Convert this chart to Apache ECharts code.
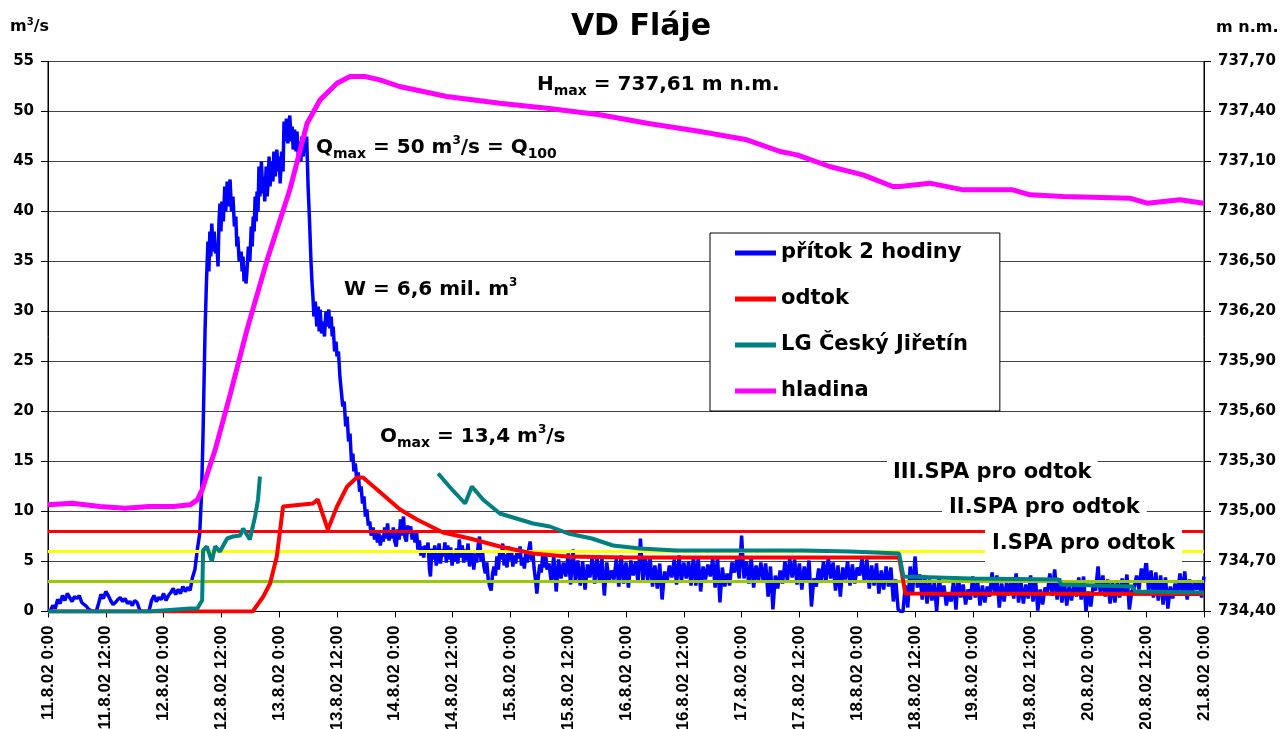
<!DOCTYPE html>
<html>
<head>
<meta charset="utf-8">
<script src="https://cdn.jsdelivr.net/npm/echarts@6/dist/echarts.min.js"></script>
<style>
html,body{margin:0;padding:0;background:#fff;}
#c{width:1282px;height:729px;}
</style>
</head>
<body>
<div id="c"></div>
<script>
// x values are hours since 11.8.02 0:00
const xTickLabels = ['11.8.02 0:00','11.8.02 12:00','12.8.02 0:00','12.8.02 12:00','13.8.02 0:00','13.8.02 12:00','14.8.02 0:00','14.8.02 12:00','15.8.02 0:00','15.8.02 12:00','16.8.02 0:00','16.8.02 12:00','17.8.02 0:00','17.8.02 12:00','18.8.02 0:00','18.8.02 12:00','19.8.02 0:00','19.8.02 12:00','20.8.02 0:00','20.8.02 12:00','21.8.02 0:00'];
const seriesNames = ['přítok 2 hodiny','odtok','LG Český Jiřetín','hladina'];

// přítok 2 hodiny [hour, m3/s]
const pritok = [
[0,0],[0.5,0.1],[1,0.6],[1.5,0.3],[2,1.2],[2.5,0.8],[3,1.6],[3.5,1.1],[4,1.8],[4.5,1.4],[5,1.0],[5.5,1.5],[6,1.3],[6.5,1.6],[7,0.9],[7.5,0.7],[8,0.5],[8.5,0.2],[9,0.1],[9.5,0],[10,0],[10.5,0.8],[11,1.7],[11.5,1.3],[12,2.0],[12.5,1.6],[13,1.1],[13.5,0.7],[14,0.9],[14.5,1.2],[15,1.4],[15.5,1.0],[16,1.3],[16.5,0.8],[17,1.0],[17.5,0.6],[18,1.1],[18.5,0.9],[19,0.2],[19.5,0],[20,0],[20.5,0],[21,0.1],[21.5,1.1],[22,1.6],[22.5,1.0],[23,1.4],[23.5,1.2],[24,1.8],[24.5,1.1],[25,1.6],[25.5,1.9],[26,2.3],[26.5,1.7],[27,2.2],[27.5,1.8],[28,2.5],[28.5,2.0],[29,2.4],[29.5,2.1],[30,3.4],[30.5,4.2],
[31,6.2],[31.5,7.8],[31.9,12],[32.2,18],[32.6,28],[32.9,33],[33.2,37],[33.4,34],[33.6,38],[33.8,35.5],[34.0,38.8],[34.3,36],[34.5,38],[34.8,35.8],[35.1,36.5],[35.3,34.5],[35.5,39],[35.7,40.8],[35.9,38],[36.1,41],[36.4,39],[36.7,42.5],[36.9,40],[37.2,43],[37.4,40.5],[37.6,42],[37.8,43.2],[38.1,40],[38.4,41.5],[38.7,38.5],[39.0,39.5],[39.2,36.5],[39.4,37.5],[39.7,35],[40.1,36],[40.3,34],[40.5,35.5],[40.7,33],[40.9,34.5],[41.1,32.8],[41.3,34],[41.6,36.5],[41.9,35],[42.2,38.5],[42.4,36.5],[42.6,39.5],[42.8,38],[43.0,41.5],[43.2,39],[43.4,42],[43.6,40],[43.8,44.5],[44.0,41.5],[44.3,45],[44.6,41.8],[44.8,43.5],[45.0,41],[45.3,44.5],[45.5,41.5],[45.7,43],[45.9,45.5],[46.1,42.5],[46.4,45],[46.7,43],[46.9,46],[47.2,43.5],[47.5,46.2],[47.8,44],[48.0,45.5],[48.2,42.8],[48.5,46],[48.8,44],[49.0,49],[49.2,47],[49.5,49.3],[49.8,46.8],[50.0,48.5],[50.2,49.6],[50.5,47],[50.7,48.5],[50.9,46.2],[51.2,48.2],[51.5,46],[51.7,48],[52.0,45.2],[52.3,47],[52.5,45],[52.7,47.5],[53.0,45.5],[53.2,48],[53.4,46],[53.7,47.5],[54.0,42.5],[54.3,39],[54.6,35],[54.8,33],[55.0,31.5],[55.2,29.5],[55.5,31],[55.8,28.5],[56.1,30.5],[56.3,28],[56.5,30.2],[56.8,27.8],[57.1,29],[57.4,27.5],[57.7,30],[58.0,28.5],[58.3,30.2],[58.5,28.3],[58.8,29.5],[59.0,27.5],[59.2,28.5],[59.5,26],[59.8,27],[60.0,25.5],[60.3,26],[60.6,23.5],[60.9,22],[61.2,20.5],[61.5,21],[61.8,18.5],[62.1,19.5],[62.4,17],[62.7,17.8],[63.0,15],[63.3,15.8],[63.5,14],[63.8,14.8],[64.1,13.2],[64.4,13.9],[64.7,12],[65.0,12.5],[65.3,10.8],[65.6,11.5],[65.9,9.5],[66.2,10.2],[66.5,8.6],[66.8,9],
[67.1,7.6],[67.5,8.4],[67.8,7.2],[68.1,8],[68.4,6.9],[68.7,7.8],[69.0,6.6],[69.3,7.6],[69.6,7],[69.9,8.4],[70.2,7.3],[70.5,8.8],[70.8,7.1],[71.1,8.1],[71.4,7.3],[71.7,8.4],[72.0,7],[72.3,6.5],[72.6,8.2],[72.9,7.2],[73.2,9.2],[73.5,7.6],[73.8,9.5],[74.1,7.4],[74.4,7],[74.7,8.6],[75.0,7.8],[75.3,8.5],[75.6,7.2],[75.9,7.9],[76.2,6.9],[76.5,8.1],[76.8,6.2],[77.1,7.1],[77.4,5.6],[77.7,6.5],[78.0,5.4],[78.3,6.6],[78.6,5.9],[78.9,6.9],[79.2,4.2],[79.4,3.5],[79.7,6.3],[80.0,5.2],[80.3,6.6],[80.6,4.6],[80.9,5.4],[81.2,6.8],[81.5,4.8],[81.8,6.2],[82.1,5.5],[82.4,6.9],[82.7,4.9],[83.0,6.6],[83.3,5.2],[83.6,6.4],[83.9,4.6],[84.2,5.8],[84.5,5],[84.8,6.3],[85.1,4.8],[85.4,7.2],[85.7,5.4],[86.0,6.6],[86.3,4.9],[86.6,6.2],[86.9,5.1],[87.2,6.8],[87.5,4.5],[87.8,6.1],[88.1,5.6],[88.4,4.2],[88.7,5.8],[89.0,4.9],[89.3,6.6],[89.6,7.5],[89.9,5],[90.2,6.1],[90.5,4.5],[90.8,3.8],[91.1,4.9],[91.4,3.2],[91.7,2.5],[92.0,2.1],[92.3,3.8],[92.6,4.5],[92.9,3.6],[93.2,5.5],[93.5,4.2],[93.8,6.1],[94.1,5.2],[94.4,6.8],[94.7,4.6],[95.0,5.7],[95.3,4.4],[95.6,6.5],[95.9,5.1],[96.2,6.2],[96.5,4.5],[96.8,5.6],[97.1,4.8],[97.4,6.1],[97.7,5.3],[98.0,6.5],[98.3,4.6],[98.6,5.4],[98.9,4.3],[99.2,5.9],[99.5,4.9],[99.8,6.2],[100.1,7],[100.4,5.1],[100.7,5.8],[100.9,4.4],[101.2,3.2],[101.5,1.8],[101.8,3.5],[102.1,4.7],[102.4,3.9],[102.7,5.6],[103.0,4.4],[103.3,5.8],[103.6,4.2],
[104,4.8],[104.5,2.9],[105,5.6],[105.5,2.0],[106,5.2],[106.5,3.3],[107,4.9],[107.5,3.5],[108,5.8],[108.5,2.7],
[109,6.2],[109.5,3.0],[110,5.1],[110.5,2.6],[111,5.0],[111.5,2.2],[112,4.7],[112.5,3.4],[113,5.5],[113.5,2.8],
[114,5.4],[114.5,2.9],[115,5.3],[115.5,1.6],[116,4.9],[116.5,3.0],[117,4.1],[117.5,3.2],[118,5.3],[118.5,2.5],
[119,5.6],[119.5,2.8],[120,4.9],[120.5,2.4],[121,5.1],[121.5,3.6],[122,5.0],[122.5,2.9],[123,7.3],[123.5,3.0],
[124,5.5],[124.5,3.1],[125,5.4],[125.5,2.5],[126,4.6],[126.5,2.3],[127,4.8],[127.5,1.2],[128,4.0],[128.5,2.9],
[129,4.6],[129.5,3.4],[130,5.2],[130.5,2.7],[131,5.6],[131.5,3.0],[132,4.9],[132.5,3.3],[133,5.0],[133.5,2.6],
[134,5.5],[134.5,2.6],[135,5.4],[135.5,2.0],[136,4.5],[136.5,3.2],[137,4.7],[137.5,3.5],[138,5.3],[138.5,2.4],
[139,5.5],[139.5,0.9],[140,4.4],[140.5,2.5],[141,3.8],[141.5,2.6],[142,4.9],[142.5,3.9],[143,5.2],[143.5,3.3],
[144,7.6],[144.5,3.3],[145,5.0],[145.5,2.8],[146,5.4],[146.5,2.4],[147,4.6],[147.5,3.1],[148,4.9],[148.5,3.0],
[149,4.8],[149.5,1.5],[150,4.5],[150.5,0.2],[151,3.6],[151.5,2.3],[152,4.1],[152.5,2.8],[153,5.0],[153.5,3.1],
[154,5.3],[154.5,3.4],[155,5.2],[155.5,2.7],[156,4.8],[156.5,2.2],[157,4.5],[157.5,2.9],[158,5.1],[158.5,0.5],
[159,3.3],[159.5,2.5],[160,4.3],[160.5,2.9],[161,5.0],[161.5,3.0],[162,5.4],[162.5,3.3],[163,4.9],[163.5,2.1],
[164,4.6],[164.5,1.5],[165,4.4],[165.5,3.2],[166,5.0],[166.5,2.6],[167,4.7],[167.5,2.8],[168,4.4],[168.5,3.6],
[169,5.3],[169.5,2.9],[170,5.2],[170.5,2.3],[171,4.6],[171.5,2.6],[172,4.8],[172.5,1.8],[173,4.1],[173.5,2.2],
[174,4.5],[174.5,2.5],[175,4.4],[175.5,1.0],[176,3.2],[176.5,0.2],[177,0.0],[177.5,0.0],[178,2.6],[178.5,0.4],
[179,4.5],[179.5,1.8],[180,5.5],[180.5,2.4],[181,3.7],[181.5,1.2],[182,3.6],[182.5,0.8],[183,3.2],[183.5,1.1],
[184,2.9],[184.5,0.0],[185,3.4],[185.5,1.5],[186,2.6],[186.5,0.6],[187,1.9],[187.5,1.0],[188,3.1],[188.5,0.2],
[189,3.4],[189.5,1.4],[190,2.7],[190.5,0.7],[191,2.2],[191.5,1.2],[192,3.5],[192.5,1.4],[193,3.0],[193.5,0.6],
[194,2.6],[194.5,0.9],[195,2.5],[195.5,1.5],[196,3.9],[196.5,1.8],[197,3.6],[197.5,0.4],[198,2.8],[198.5,1.0],
[199,2.9],[199.5,1.6],[200,3.4],[200.5,1.3],[201,3.8],[201.5,0.9],[202,3.0],[202.5,0.8],[203,2.7],[203.5,1.3],
[204,3.6],[204.5,1.0],[205,3.3],[205.5,0.1],[206,2.2],[206.5,0.7],[207,2.4],[207.5,1.9],[208,3.8],[208.5,1.6],
[209,4.2],[209.5,1.2],[210,3.3],[210.5,0.9],[211,3.1],[211.5,0.6],[212,2.5],[212.5,1.1],[213,2.8],[213.5,1.5],
[214,3.4],[214.5,1.2],[215,3.5],[215.5,0.0],[216,2.0],[216.5,0.5],[217,2.6],[217.5,2.1],[218,4.5],[218.5,1.7],
[219,3.6],[219.5,1.5],[220,3.2],[220.5,0.8],[221,3.0],[221.5,0.9],[222,2.9],[222.5,1.4],[223,3.3],[223.5,1.8],
[224,3.7],[224.5,0.2],[225,2.0],[225.5,2.4],[226,3.6],[226.5,2.2],[227,4.3],[227.5,3.0],[228,5.2],[228.5,2.0],
[229,4.1],[229.5,1.4],[230,3.9],[230.5,1.1],[231,3.6],[231.5,0.7],[232,3.4],[232.5,0.3],[233,2.5],[233.5,1.3],
[234,2.8],[234.5,1.6],[235,3.8],[235.5,1.8],[236,4.0],[236.5,1.2],[237,3.2],[237.5,1.6],[238,3.0],[238.5,2.2],
[239,3.1],[239.5,1.4],[240,3.5]
];

// odtok [hour, m3/s]
const odtok = [
[0,0],[42.5,0],[44.7,1.5],[46.1,2.8],[47.5,5.5],[48.8,10.5],[55,10.8],[56,11.2],[58.1,8.2],[60,10.5],[62.1,12.5],[64.1,13.4],[65.4,13.4],[68.3,12.2],[73.1,10.2],[76.6,9.2],[82,7.9],[87.6,7.3],[93.8,6.5],[100.7,5.8],[107.7,5.5],[120,5.4],[176.7,5.4],[178,1.8],[240,1.75]
];

// LG Český Jiřetín [hour, m3/s]
const ceskyJiretin = [
[0,0],[21,0],[29.5,0.3],[31,0.3],[31.6,0.8],[32,1.1],[32.2,6.1],[33,6.5],[34,5],[34.7,6.5],[35.7,6],[37.2,7.3],[38.4,7.5],[39.9,7.6],[40.5,8.3],[41.9,7.2],[43,9.5],[43.6,11.2],[44,13.5],
[60,'-'],
[81,13.8],[83.5,12.4],[86.6,10.8],[88,12.5],[90.3,11.2],[93.8,9.8],[100.7,8.8],[104.2,8.5],[108,7.8],[112.9,7.3],[117.3,6.6],[122.9,6.3],[130.4,6.1],[143.7,6.1],[156.5,6.1],[166.5,6.0],[176.7,5.8],[177.6,3.5],[191.6,3.3],[209.9,3.2],[210.3,2.7],[225.2,2.5],[225.7,2.0],[240,1.9]
];

// hladina [hour, m n.m.]
const hladina = [
[0,735.04],[5,735.05],[10.8,735.03],[16,735.02],[21,735.03],[26,735.03],[29.5,735.04],[31,735.07],[32,735.13],[34.7,735.37],[37.8,735.70],[41.3,736.09],[45.5,736.51],[50.2,736.93],[53.8,737.33],[56.5,737.47],[60,737.57],[62.7,737.61],[65.8,737.61],[68.9,737.59],[73,737.55],[82.8,737.49],[93.8,737.45],[103.6,737.42],[114.6,737.38],[124.4,737.33],[135.4,737.28],[145.1,737.23],[152,737.16],[155.5,737.14],[162.3,737.07],[169.2,737.02],[175.4,736.95],[176.9,736.95],[183.1,736.97],[190,736.93],[200.3,736.93],[203.9,736.90],[210.7,736.89],[224.6,736.88],[228.2,736.85],[235,736.87],[240,736.85]
];

// SPA thresholds for odtok [m3/s]
const spa1 = 8;
const spaYellow = 6;
const spaGreen = 3;
const xRange = [0, 240];

const FONT = 'DejaVu Sans';
const chart = echarts.init(document.getElementById('c'), null, {renderer: 'canvas'});

function hline(val, color, z) {
  return {
    type: 'line', data: [[xRange[0], val], [xRange[1], val]], symbol: 'none', silent: true,
    lineStyle: {color: color, width: 3}, z: z, yAxisIndex: 0
  };
}

const rich = {
  a: {fontFamily: FONT, fontWeight: 'bold', fontSize: 20, lineHeight: 26, color: '#000'},
  s: {fontFamily: FONT, fontWeight: 'bold', fontSize: 14, lineHeight: 14, verticalAlign: 'bottom', color: '#000'},
  p: {fontFamily: FONT, fontWeight: 'bold', fontSize: 12, lineHeight: 16, verticalAlign: 'top', color: '#000'}
};
const richSmall = {
  a: {fontFamily: FONT, fontWeight: 'bold', fontSize: 16, lineHeight: 20, color: '#000'},
  p: {fontFamily: FONT, fontWeight: 'bold', fontSize: 10, lineHeight: 12, verticalAlign: 'top', color: '#000'}
};

function ann(x, y, text, r) {
  return {
    type: 'text', x: x, y: y, z: 100,
    style: {text: text, rich: r || rich, verticalAlign: 'middle', align: 'left', fill: '#000'}
  };
}
function boxLabel(x, y, text, pad) {
  return {
    type: 'text', x: x, y: y, z: 100,
    style: {text: text, font: 'bold 21px "DejaVu Sans"', fill: '#000', verticalAlign: 'middle', align: 'left',
      backgroundColor: '#fff', padding: pad}
  };
}

const option = {
  animation: false,
  backgroundColor: '#fff',
  title: {
    text: 'VD Fláje', left: 'center', top: 7,
    textStyle: {fontFamily: FONT, fontWeight: 'bold', fontSize: 30, color: '#000'}
  },
  legend: {
    data: seriesNames, orient: 'vertical', left: 710, top: 233,
    padding: [8, 32, 8, 25], itemGap: 22, itemWidth: 41, itemHeight: 5, icon: 'rect',
    backgroundColor: '#fff', borderColor: '#000', borderWidth: 1,
    textStyle: {fontFamily: FONT, fontWeight: 'bold', fontSize: 21, color: '#000', lineHeight: 24},
    selectedMode: false, z: 50
  },
  grid: {left: 48, right: 78, top: 61.5, bottom: 117.5, show: true, borderColor: '#000', borderWidth: 1, outerBoundsMode: 'none', containLabel: false},
  xAxis: {
    type: 'value', min: xRange[0], max: xRange[1], interval: 12,
    axisLine: {show: true, lineStyle: {color: '#000', width: 1}},
    axisTick: {show: true, length: 6, lineStyle: {color: '#000'}},
    splitLine: {show: false},
    axisLabel: {
      rotate: 90, margin: 14, fontFamily: 'Liberation Sans', fontWeight: 'bold', fontSize: 17, color: '#000',
      formatter: v => xTickLabels[Math.round(v / 12)] || ''
    }
  },
  yAxis: [{
    type: 'value', min: 0, max: 55, interval: 5, position: 'left',
    axisLine: {show: true, lineStyle: {color: '#000'}},
    axisTick: {show: true, length: 7, lineStyle: {color: '#000'}},
    splitLine: {show: true, lineStyle: {color: '#454545', width: 1}},
    axisLabel: {margin: 14, fontFamily: FONT, fontWeight: 'bold', fontSize: 15, color: '#000'}
  }, {
    type: 'value', min: 734.4, max: 737.7, interval: 0.3, position: 'right',
    axisLine: {show: true, lineStyle: {color: '#000'}},
    axisTick: {show: true, length: 7, lineStyle: {color: '#000'}},
    splitLine: {show: false},
    axisLabel: {margin: 14, fontFamily: FONT, fontWeight: 'bold', fontSize: 15, color: '#000',
      formatter: v => v.toFixed(2).replace('.', ',')}
  }],
  series: [
    {name: seriesNames[0], type: 'line', data: pritok, symbol: 'none', yAxisIndex: 0, z: 2,
      lineStyle: {color: '#0000FF', width: 3.5}, itemStyle: {color: '#0000FF'}},
    hline(spaGreen, '#99CC00', 3),
    hline(spaYellow, '#FFFF00', 3),
    hline(spa1, '#FF0000', 3),
    {name: seriesNames[1], type: 'line', data: odtok, symbol: 'none', yAxisIndex: 0, z: 4,
      lineStyle: {color: '#FF0000', width: 4}, itemStyle: {color: '#FF0000'}},
    {name: seriesNames[2], type: 'line', data: ceskyJiretin, symbol: 'none', yAxisIndex: 0, z: 5, connectNulls: false,
      lineStyle: {color: '#008080', width: 4}, itemStyle: {color: '#008080'}},
    {name: seriesNames[3], type: 'line', data: hladina, symbol: 'none', yAxisIndex: 1, z: 6,
      lineStyle: {color: '#FF00FF', width: 5}, itemStyle: {color: '#FF00FF'}}
  ],
  graphic: [
    ann(10, 27, '{a|m}{p|3}{a|/s}', richSmall),
    ann(1216, 28, '{a|m n.m.}', richSmall),
    ann(537, 85, '{a|H}{s|max}{a| = 737,61 m n.m.}'),
    ann(316, 148, '{a|Q}{s|max}{a| = 50 m}{p|3}{a|/s = Q}{s|100}'),
    ann(344, 290, '{a|W = 6,6 mil. m}{p|3}'),
    ann(380, 437, '{a|O}{s|max}{a| = 13,4 m}{p|3}{a|/s}'),
    boxLabel(887, 473, 'III.SPA pro odtok', [6, 6, 6, 6]),
    boxLabel(942, 508, 'II.SPA pro odtok', [5, 7, 5, 7]),
    boxLabel(985, 544, 'I.SPA pro odtok', [9, 7, 8, 7])
  ]
};
chart.setOption(option);
</script>
</body>
</html>
